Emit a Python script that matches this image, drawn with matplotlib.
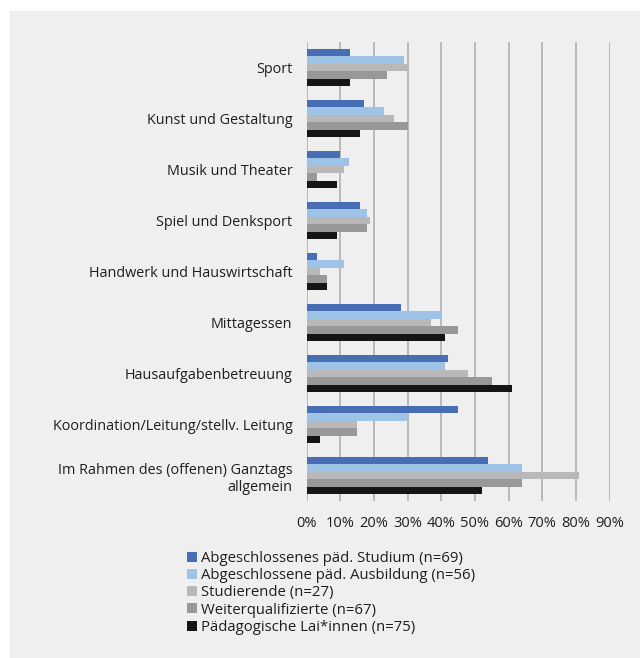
import matplotlib
matplotlib.use("Agg")
import matplotlib.pyplot as plt
from matplotlib.patches import Rectangle
import numpy as np

plt.rcParams['font.family'] = ['Open Sans', 'DejaVu Sans']

categories = ["Sport", "Kunst und Gestaltung", "Musik und Theater", "Spiel und Denksport",
              "Handwerk und Hauswirtschaft", "Mittagessen", "Hausaufgabenbetreuung",
              "Koordination/Leitung/stellv. Leitung",
              "Im Rahmen des (offenen) Ganztags\nallgemein"]

series_names = ["Abgeschlossenes päd. Studium (n=69)",
                "Abgeschlossene päd. Ausbildung (n=56)",
                "Studierende (n=27)",
                "Weiterqualifizierte (n=67)",
                "Pädagogische Lai*innen (n=75)"]

studium = [13, 17, 10, 16, 3, 28, 42, 45, 54]
ausbildung = [29, 23, 12.5, 18, 11, 40, 41, 30, 64]
studierende = [30, 26, 11, 19, 4, 37, 48, 15, 81]
weiterqual = [24, 30, 3, 18, 6, 45, 55, 15, 64]
laien = [13, 16, 9, 9, 6, 41, 61, 4, 52]

colors = ["#476db5", "#9dc3e6", "#b8b8b8", "#989898", "#151515"]
ticks = [0, 10, 20, 30, 40, 50, 60, 70, 80, 90]

fig = plt.figure(figsize=(6.4, 6.58), dpi=100)
fig.patch.set_facecolor("white")
# light gray panel behind everything
fig.patches.append(Rectangle((10 / 640, 0), 1, 1 - 11 / 658, transform=fig.transFigure,
                             facecolor="#efefef", edgecolor="none", zorder=-10))

ax = fig.add_axes([306.5 / 640, 1 - 501 / 658, 303 / 640, 459 / 658])
ax.set_facecolor("none")

y = np.arange(len(categories))
h = 0.147
all_series = [studium, ausbildung, studierende, weiterqual, laien]
for i, vals in enumerate(all_series):
    ax.barh(y + (i - 2) * h, vals, height=h, color=colors[i], label=series_names[i], zorder=3)

ax.set_xlim(0, 90)
ax.set_ylim(len(categories) - 0.5, -0.5)
ax.set_xticks(ticks)
ax.set_xticklabels([f"{t}%" for t in ticks], fontsize=10.5, color="#1e1e1e")
ax.set_yticks(y)
ax.set_yticklabels(categories, fontsize=10.4, color="#1e1e1e")
ax.tick_params(length=0)
ax.tick_params(axis='x', pad=11)
ax.tick_params(axis='y', pad=10)
for s in ax.spines.values():
    s.set_visible(False)
for t in ticks:
    ax.axvline(t, color="#b0b0b0", lw=1.2, zorder=1)

handles, labels = ax.get_legend_handles_labels()
fig.legend(handles, labels, loc="upper left", bbox_to_anchor=(181 / 640, 1 - 545 / 658),
           frameon=False, fontsize=10.7, handlelength=0.65, handleheight=0.65,
           handletextpad=0.3, labelspacing=0.15, borderaxespad=0, labelcolor="#1e1e1e")

fig.savefig("out.png", dpi=100)
